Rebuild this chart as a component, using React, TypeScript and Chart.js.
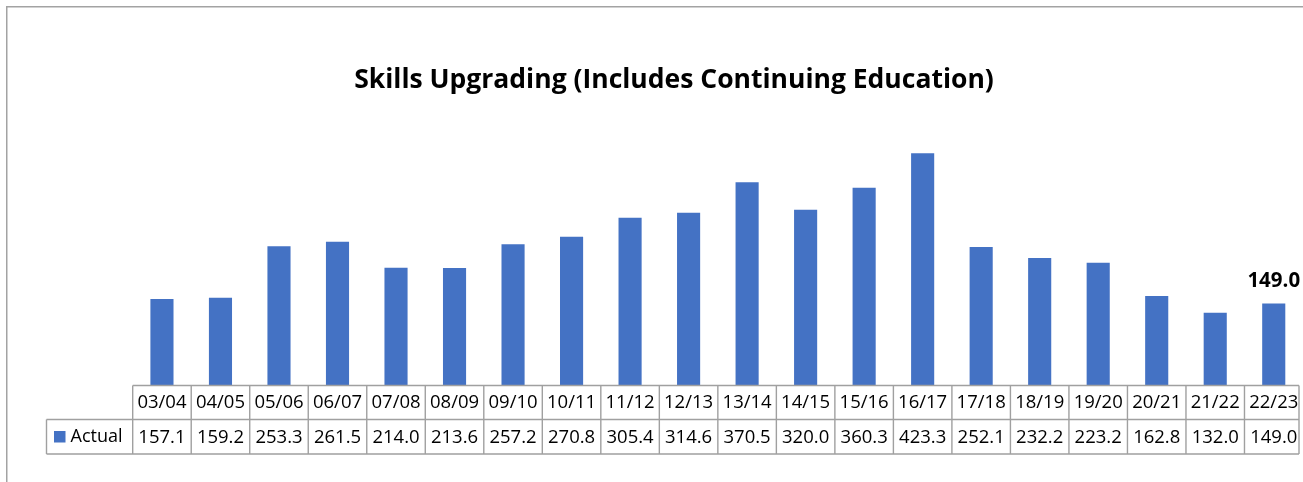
import React, { useEffect, useRef } from "react";
import { Chart, registerables } from "chart.js";

Chart.register(...registerables);

const title = "Skills Upgrading (Includes Continuing Education)";
const seriesName = "Actual";
const categories = [
  "03/04", "04/05", "05/06", "06/07", "07/08", "08/09", "09/10", "10/11", "11/12", "12/13",
  "13/14", "14/15", "15/16", "16/17", "17/18", "18/19", "19/20", "20/21", "21/22", "22/23",
];
const actual = [
  157.1, 159.2, 253.3, 261.5, 214.0, 213.6, 257.2, 270.8, 305.4, 314.6,
  370.5, 320.0, 360.3, 423.3, 252.1, 232.2, 223.2, 162.8, 132.0, 149.0,
];
const yMin = 0;
const yMax = 450;

const FONT = "'Open Sans', 'Noto Sans', sans-serif";
const BAR = "#4472C4";
const GRID = "#a0a0a0";

const tablePlugin = {
  id: "dataTable",
  afterDraw(chart: any) {
    const ctx = chart.ctx as CanvasRenderingContext2D;
    const x = chart.scales.x;
    const area = chart.chartArea;
    const n = categories.length;
    const colW = (area.right - area.left) / n;
    const top = area.bottom + 0.5;
    const mid = top + 34;
    const bot = mid + 34.5;
    const legendLeft = 46.5;

    ctx.save();
    // outer frame
    ctx.strokeStyle = "#a3a3a3";
    ctx.lineWidth = 1.5;
    ctx.strokeRect(6.75, 6.75, 1400, 600);

    // grid lines
    ctx.strokeStyle = GRID;
    ctx.lineWidth = 1.4;
    ctx.beginPath();
    const rightEdge = area.right - 4;
    ctx.moveTo(area.left, top);
    ctx.lineTo(rightEdge, top);
    ctx.moveTo(legendLeft, mid);
    ctx.lineTo(rightEdge, mid);
    ctx.moveTo(legendLeft, bot);
    ctx.lineTo(rightEdge, bot);
    ctx.moveTo(legendLeft, mid);
    ctx.lineTo(legendLeft, bot);
    for (let i = 0; i <= n; i++) {
      let bx = area.left + i * colW;
      if (i === n) bx = rightEdge;
      ctx.moveTo(bx, top);
      ctx.lineTo(bx, bot);
    }
    ctx.stroke();

    // texts
    ctx.fillStyle = "#000";
    ctx.font = `18.5px ${FONT}`;
    ctx.textAlign = "center";
    ctx.textBaseline = "middle";
    for (let i = 0; i < n; i++) {
      const cx = x.getPixelForValue(i);
      ctx.fillText(categories[i], cx, (top + mid) / 2 + 0.5);
      ctx.fillText(actual[i].toFixed(1), cx, (mid + bot) / 2 + 0.5);
    }
    // legend cell
    ctx.fillStyle = BAR;
    ctx.fillRect(54, 431, 11.5, 11.5);
    ctx.fillStyle = "#000";
    ctx.textAlign = "left";
    ctx.font = `18px ${FONT}`;
    ctx.fillText(seriesName, 70.5, (mid + bot) / 2 + 0.5);

    // data label on last bar
    const meta = chart.getDatasetMeta(0);
    const last = meta.data[n - 1];
    ctx.font = `bold 20.5px ${FONT}`;
    ctx.textAlign = "center";
    ctx.textBaseline = "alphabetic";
    ctx.fillText(actual[n - 1].toFixed(1), last.x, last.y - 16.5);
    ctx.restore();
  },
};

export default function App() {
  const ref = useRef<HTMLCanvasElement | null>(null);
  useEffect(() => {
    if (!ref.current) return;
    const chart = new Chart(ref.current, {
      type: "bar",
      data: {
        labels: categories,
        datasets: [
          {
            label: seriesName,
            data: actual,
            backgroundColor: BAR,
            categoryPercentage: 1,
            barPercentage: 0.395,
          },
        ],
      },
      options: {
        animation: false,
        responsive: false,
        devicePixelRatio: 1,
        layout: { padding: { left: 45, right: 0, top: 0, bottom: 97 } },
        plugins: {
          legend: { display: false },
          tooltip: { enabled: false },
          title: {
            display: true,
            text: title,
            color: "#000",
            font: { family: FONT, size: 26.5, weight: "bold", lineHeight: 1.2 },
            padding: { top: 65, bottom: 41.9 },
          },
        },
        scales: {
          x: { display: false },
          y: {
            display: true,
            min: yMin,
            max: yMax,
            grid: { display: false },
            border: { display: false },
            ticks: { display: false },
            afterFit: (s: any) => {
              s.width = 87.7;
            },
          },
        },
      },
      plugins: [tablePlugin],
    });
    return () => chart.destroy();
  }, []);
  return (
    <div style={{ position: "absolute", left: 0, top: 0, width: 1303, height: 482, background: "#fff" }}>
      <canvas ref={ref} width={1303} height={482} style={{ display: "block" }} />
    </div>
  );
}
